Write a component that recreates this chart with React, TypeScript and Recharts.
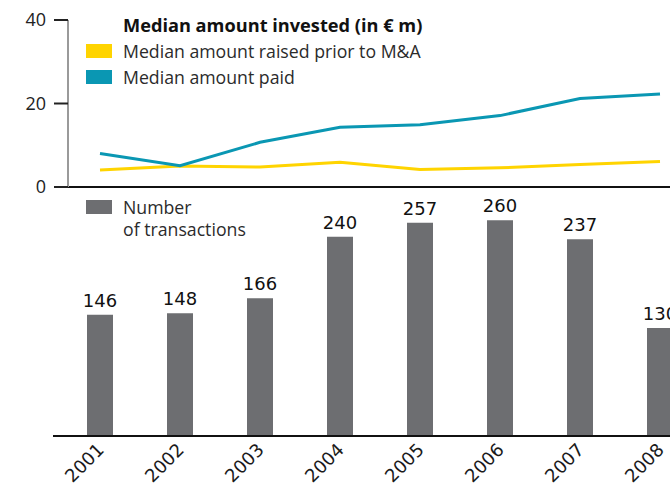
import React from 'react';
import { Bar, BarChart, LabelList, Line, LineChart, XAxis, YAxis } from 'recharts';

const years = ['2001', '2002', '2003', '2004', '2005', '2006', '2007', '2008'];
const raisedPriorToMA = [4.1, 5.0, 4.8, 5.9, 4.2, 4.6, 5.4, 6.1];
const amountPaid = [8.0, 5.1, 10.7, 14.3, 14.9, 17.1, 21.2, 22.3];
const transactions = [146, 148, 166, 240, 257, 260, 237, 130];
const investedTicks = [0, 20, 40];

const lineData = years.map((year, i) => ({ year, raised: raisedPriorToMA[i], paid: amountPaid[i] }));
const barData = years.map((year, i) => ({ year, count: transactions[i] }));

const YELLOW = '#ffd400';
const TEAL = '#0a97b3';
const GREY = '#6d6e71';
const SANS = '"Open Sans", sans-serif';
const VERDANA = '"DejaVu Sans", sans-serif';

// rotated year labels under the bars
function YearTick({ x, y, payload }: any) {
  const ax = x + 5;
  const ay = y + 15;
  return (
    <text
      x={ax}
      y={ay}
      textAnchor="end"
      transform={`rotate(-45, ${ax}, ${ay})`}
      fontFamily={VERDANA}
      fontSize={18}
      fill="#1a1a1a"
    >
      {payload.value}
    </text>
  );
}

function Swatch({ top, color }: { top: number; color: string }) {
  return <div style={{ position: 'absolute', left: 86, top, width: 26, height: 14, background: color }} />;
}

const legendText: React.CSSProperties = {
  position: 'absolute',
  left: 123,
  fontFamily: SANS,
  fontSize: 17.7,
  color: '#2b2b2b',
  lineHeight: '22px',
  whiteSpace: 'nowrap',
};

export default function App() {
  return (
    <div style={{ position: 'absolute', left: 0, top: 0, width: 670, height: 486, overflow: 'hidden', background: '#fff' }}>
      <div style={{ position: 'absolute', left: 0, top: 0 }}>
        <LineChart width={760} height={200} data={lineData} margin={{ top: 20, right: 0, bottom: 0, left: 0 }}>
          <XAxis
            dataKey="year"
            tick={false}
            tickLine={false}
            height={13}
            padding={{ left: 32, right: 100 }}
            axisLine={{ stroke: '#111', strokeWidth: 2 }}
          />
          <YAxis
            domain={[0, 40]}
            ticks={investedTicks}
            width={68}
            tickSize={14}
            tickMargin={8}
            axisLine={{ stroke: '#9a9a9a', strokeWidth: 2 }}
            tickLine={{ stroke: '#222', strokeWidth: 2 }}
            tick={{ fontFamily: SANS, fontSize: 18, fill: '#222' }}
          />
          <Line dataKey="raised" stroke={YELLOW} strokeWidth={3} dot={false} isAnimationActive={false} />
          <Line dataKey="paid" stroke={TEAL} strokeWidth={3} dot={false} isAnimationActive={false} />
        </LineChart>
      </div>
      <div style={{ position: 'absolute', left: 0, top: 187 }}>
        <BarChart width={760} height={299} data={barData} margin={{ top: 0, right: 0, bottom: 0, left: 53 }}>
          <YAxis hide domain={[0, 300]} />
          <XAxis
            dataKey="year"
            height={50}
            padding={{ left: 7, right: 60 }}
            tickLine={false}
            tickSize={0}
            tickMargin={0}
            tick={<YearTick />}
            interval={0}
            axisLine={{ stroke: '#111', strokeWidth: 2 }}
          />
          <Bar dataKey="count" fill={GREY} barSize={26} isAnimationActive={false}>
            <LabelList dataKey="count" position="top" offset={8} fontFamily={VERDANA} fontSize={18} fill="#111" />
          </Bar>
        </BarChart>
      </div>

      <div style={{ ...legendText, top: 14, fontWeight: 700, fontSize: 18.2, color: '#111' }}>Median amount invested (in € m)</div>
      <Swatch top={44} color={YELLOW} />
      <div style={{ ...legendText, top: 40 }}>Median amount raised prior to M&amp;A</div>
      <Swatch top={70} color={TEAL} />
      <div style={{ ...legendText, top: 66 }}>Median amount paid</div>
      <Swatch top={200} color={GREY} />
      <div style={{ ...legendText, top: 196 }}>Number</div>
      <div style={{ ...legendText, top: 218 }}>of transactions</div>
    </div>
  );
}
